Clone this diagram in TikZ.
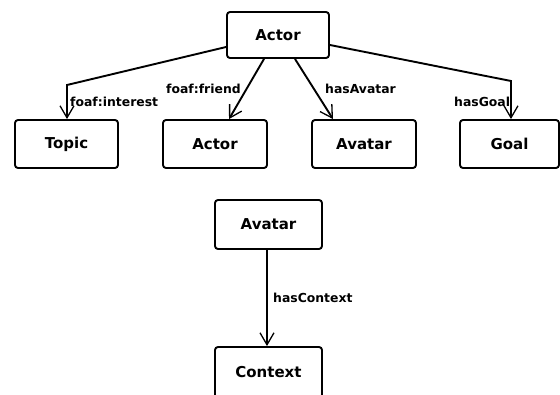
\documentclass[tikz,border=0pt]{standalone}
\usepackage{fontspec}
\setmainfont{DejaVu Sans}
\usetikzlibrary{arrows.meta}
\begin{document}
\begin{tikzpicture}[x=1pt,y=-1pt,
  cls/.style={draw=black,line width=1.9pt,rounded corners=3pt,fill=white,font=\bfseries\fontsize{15}{17}\selectfont,inner sep=0pt},
  rel/.style={line width=1.9pt,-{Straight Barb[length=12pt,width=14pt,line width=1.3pt]}},
  lbl/.style={font=\bfseries\fontsize{12.4}{14}\selectfont,inner sep=0pt,anchor=base west}]
\useasboundingbox (0,0) rectangle (560,394);
% boxes
\node[cls,minimum width=102pt,minimum height=46pt] (actor) at (278,35) {Actor};
\node[cls,minimum width=103pt,minimum height=48pt] (topic) at (66.5,144) {Topic};
\node[cls,minimum width=104pt,minimum height=48pt] (actor2) at (215,144) {Actor};
\node[cls,minimum width=104pt,minimum height=48pt] (avatar) at (364,144) {Avatar};
\node[cls,minimum width=99pt,minimum height=48pt] (goal) at (509.5,144) {Goal};
\node[cls,minimum width=107pt,minimum height=49pt] (avatar2) at (268.5,224.5) {Avatar};
\node[cls,minimum width=107pt,minimum height=51pt] (context) at (268.5,372.5) {Context};
% connectors
\coordinate (tb) at (67,85);
\coordinate (gb) at (511,81);
\draw[rel] (actor.west |- 0,47) -- (tb) -- (topic.north -| tb);
\draw[rel] (actor.south -| 264,0) -- (actor2.north -| 229,0);
\draw[rel] (actor.south -| 295,0) -- (avatar.north -| 333,0);
\draw[rel] (actor.east |- 0,45) -- (gb) -- (goal.north -| gb);
\draw[rel] (avatar2.south -| 267,0) -- (context.north -| 267,0);
% labels
\node[lbl] (l1) at (70,106) {foaf:interest};
\node[lbl] (l2) at (166,93) {foaf:friend};
\node[lbl] (l3) at (325,93) {hasAvatar};
\node[lbl] (l4) at (454,106) {hasGoal};
\node[lbl] (l5) at (273,302) {hasContext};
\end{tikzpicture}
\end{document}
